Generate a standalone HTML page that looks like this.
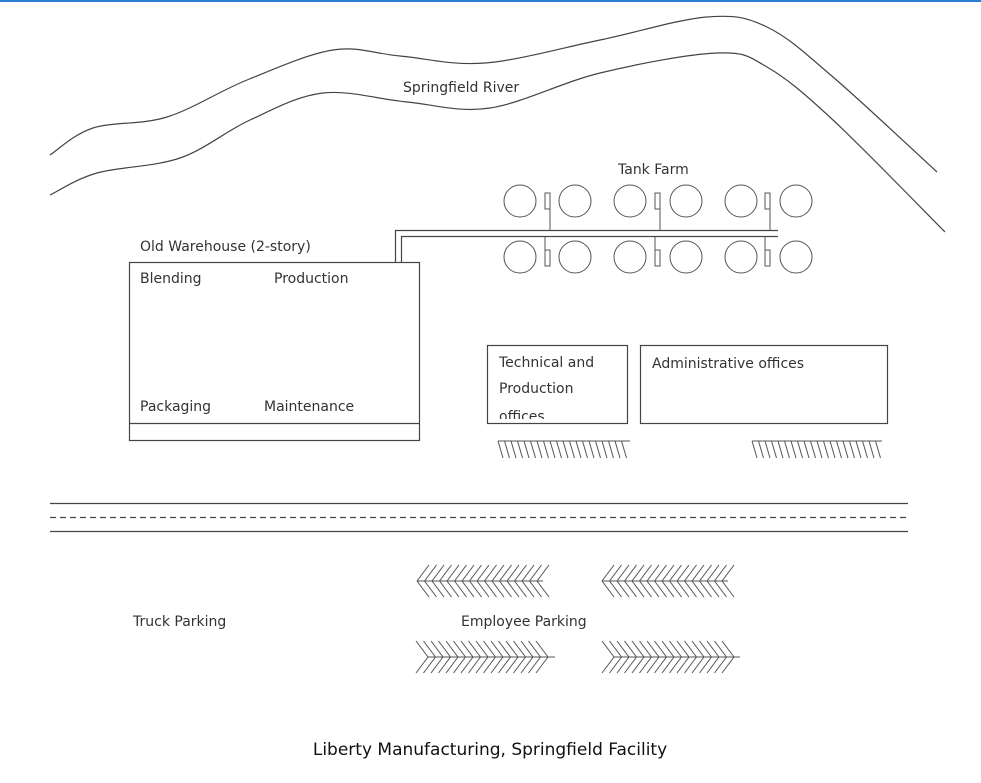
<!DOCTYPE html>
<html><head><meta charset="utf-8"><style>
html,body{margin:0;padding:0;background:#fff}
svg text{font-family:"DejaVu Sans","Liberation Sans",sans-serif;fill:#333}
</style></head><body>
<svg id="s" width="981" height="778" viewBox="0 0 981 778" xmlns="http://www.w3.org/2000/svg">
<rect x="0" y="0" width="981" height="2" fill="#2b7fd4"/>
<g fill="none" stroke="#444" stroke-width="1.2">
<path id="r1"/>
<path id="r2"/>
<rect x="129.5" y="262.5" width="290" height="178"/>
<line x1="129" y1="423.5" x2="419" y2="423.5"/>
<rect x="487.5" y="345.5" width="140" height="78"/>
<rect x="640.5" y="345.5" width="247" height="78"/>
<line x1="50" y1="503.5" x2="908" y2="503.5"/>
<line x1="50" y1="531.5" x2="908" y2="531.5"/>
<line x1="50" y1="517.5" x2="908" y2="517.5" stroke-dasharray="6,4"/>
<polyline points="395.5,262 395.5,230.5 778,230.5"/>
<polyline points="401.5,262 401.5,236.5 778,236.5"/>
</g>
<g id="g" fill="none" stroke="#555" stroke-width="1"></g>
<text x="403" y="92" font-size="14">Springfield River</text>
<text x="618" y="174" font-size="14">Tank Farm</text>
<text x="140" y="251" font-size="14">Old Warehouse (2-story)</text>
<text x="140" y="283" font-size="14">Blending</text>
<text x="274" y="283" font-size="14">Production</text>
<text x="140" y="411" font-size="14">Packaging</text>
<text x="264" y="411" font-size="14">Maintenance</text>
<text x="499" y="367" font-size="14">Technical and</text>
<text x="499" y="393" font-size="14">Production</text>
<svg x="487" y="400" width="140" height="19"><text x="12" y="21" font-size="14">offices</text></svg>
<text x="652" y="368" font-size="14">Administrative offices</text>
<text x="133" y="626" font-size="14">Truck Parking</text>
<text x="461" y="626" font-size="14">Employee Parking</text>
<text x="490" y="755" font-size="17" text-anchor="middle" style="fill:#111">Liberty Manufacturing, Springfield Facility</text>
</svg>
<script>
function cr(p){var d='M'+p[0][0]+','+p[0][1];for(var i=0;i<p.length-1;i++){var a=p[Math.max(i-1,0)],b=p[i],c=p[i+1],e=p[Math.min(i+2,p.length-1)];
d+=' C'+(b[0]+(c[0]-a[0])/6)+','+(b[1]+(c[1]-a[1])/6)+' '+(c[0]-(e[0]-b[0])/6)+','+(c[1]-(e[1]-b[1])/6)+' '+c[0]+','+c[1];}return d;}
document.getElementById('r1').setAttribute('d',cr([[50,155],[93,128],[167,117],[247,80],[333,50],[400,56],[485,63],[600,40],[707,17],[767,27],[833,77],[937,172]]));
document.getElementById('r2').setAttribute('d',cr([[50,195],[97,173],[180,158],[250,120],[323,93],[407,102],[490,108],[600,73],[717,53],[767,67],[833,120],[945,232]]));
var g=document.getElementById('g'),h='';
function L(a,b,c,d){h+='<line x1="'+a+'" y1="'+b+'" x2="'+c+'" y2="'+d+'"/>';}
var xs=[520,575,630,686,741,796];
xs.forEach(function(x){h+='<circle cx="'+x+'" cy="201" r="16"/><circle cx="'+x+'" cy="257" r="16"/>';});
[548,658,768].forEach(function(x){
 h+='<rect x="'+(x-3)+'" y="193" width="5" height="16"/><rect x="'+(x-3)+'" y="250" width="5" height="16"/>';
 L(x+2,209,x+2,230);L(x-3,237,x-3,250);
});
function hatch(x0,x1){L(x0,441,x1,441);for(var x=x0;x<=x1-4;x+=6.5)L(x,441,x+5,458);}
hatch(498,630);hatch(752,882);
function chevL(x0,x1,y){L(x0,y,x1,y);for(var x=x0;x<=x1;x+=7.5){L(x,y,x+12,y-16);L(x,y,x+12,y+16);}}
function chevR(x0,x1,y){L(x0,y,x1,y);for(var x=x0;x<=x1;x+=7.5){L(x,y,x-12,y-16);L(x,y,x-12,y+16);}}
chevL(417,543,581);chevL(602,728,581);
chevR(428,555,657);chevR(614,740,657);
g.innerHTML=h;
</script>
</body></html>
